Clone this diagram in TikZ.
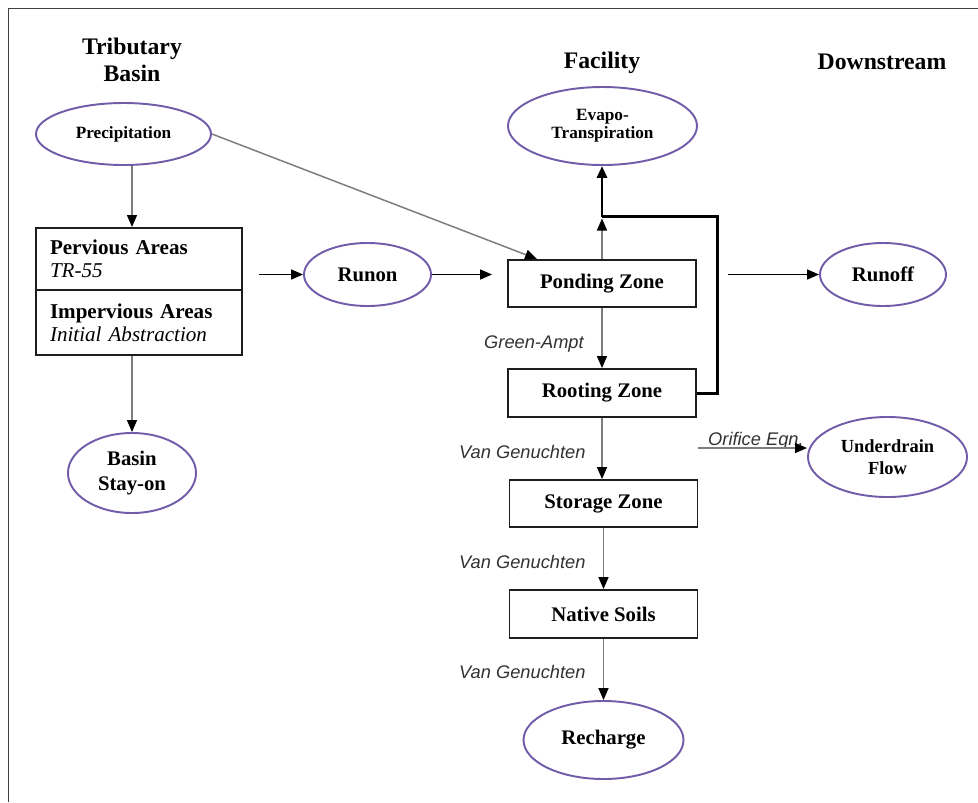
\documentclass[tikz,border=0pt]{standalone}
\usepackage{fontspec}
\setmainfont{Liberation Serif}
\newfontfamily\labfont{Liberation Sans}
\usetikzlibrary{arrows.meta,shapes.geometric,calc}
\definecolor{ellcol}{RGB}{112,92,168}
\definecolor{thingray}{RGB}{125,125,125}
\definecolor{boxcol}{RGB}{30,30,30}
\definecolor{labcol}{RGB}{50,50,50}
\tikzset{
  tip/.style={-{Triangle[width=0.2cm,length=0.24cm,color=black]}},
  flow/.style={tip, draw=thingray, line width=0.85pt},
  blackflow/.style={tip, draw=black, line width=0.9pt},
  thickflow/.style={draw=black, line width=1.7pt},
  ell/.style={ellipse, draw=ellcol, line width=1.1pt, inner sep=0pt, align=center, font=\bfseries\fontsize{11.8}{14}\selectfont},
  smallell/.style={ell, font=\bfseries\fontsize{9.8}{10.4}\selectfont},
  zonebox/.style={rectangle, draw=boxcol, line width=1.1pt, inner sep=0pt, minimum width=3.76cm, font=\bfseries\fontsize{11.8}{14}\selectfont},
  areabox/.style={rectangle, draw=boxcol, line width=1.1pt, inner xsep=0.28cm, inner ysep=0pt, text width=3.56cm, align=left, minimum width=4.12cm, font=\fontsize{12}{13.2}\selectfont},
  title/.style={anchor=base, font=\bfseries\fontsize{13.5}{16}\selectfont},
  lab/.style={anchor=base west, text=labcol, font=\labfont\itshape\fontsize{10.4}{12}\selectfont}
}
\begin{document}
\begin{tikzpicture}
\useasboundingbox (0,0) rectangle (19.56,-16.04);
% frame
\draw[draw=black!75, line width=0.9pt] (0.166,-16.04) -- (0.166,-0.166) -- (19.56,-0.166);
% titles
\node[title] (t1) at (2.64,-1.08) {Tributary};
\node[title] (t2) at (2.64,-1.62) {Basin};
\node[title] (t3) at (12.04,-1.36) {Facility};
\node[title] (t4) at (17.64,-1.38) {Downstream};
% nodes
\node[smallell, minimum width=3.5cm, minimum height=1.24cm] (prec) at (2.47,-2.68) {Precipitation};
\node[areabox, minimum height=1.24cm] (perv) at (2.78,-5.18) {\textbf{Pervious Areas}\\\textit{TR-55}};
\node[areabox, minimum height=1.30cm] (imperv) at (2.78,-6.45) {\textbf{Impervious Areas}\\\textit{Initial Abstraction}};
\node[ell, minimum width=2.56cm, minimum height=1.6cm] (basin) at (2.64,-9.46) {Basin\\Stay-on};
\node[ell, minimum width=2.54cm, minimum height=1.26cm] (runon) at (7.35,-5.49) {Runon};
\node[smallell, minimum width=3.78cm, minimum height=1.56cm] (evapo) at (12.05,-2.52) {Evapo-\\Transpiration};
\node[zonebox, minimum height=0.94cm] (pond) at (12.04,-5.67) {Ponding Zone};
\node[zonebox, minimum height=0.96cm] (root) at (12.04,-7.86) {Rooting Zone};
\node[zonebox, minimum height=0.94cm] (stor) at (12.07,-10.07) {Storage Zone};
\node[zonebox, minimum height=0.96cm] (nat) at (12.07,-12.28) {Native Soils};
\node[ell, minimum width=3.2cm, minimum height=1.56cm] (rech) at (12.07,-14.8) {Recharge};
\node[ell, minimum width=2.52cm, minimum height=1.26cm] (runoff) at (17.66,-5.49) {Runoff};
\node[ell, minimum width=3.18cm, minimum height=1.6cm, font=\bfseries\fontsize{10.5}{12.3}\selectfont] (under) at (17.75,-9.14) {Underdrain\\Flow};
% labels
\node[lab] (ga) at (9.56,-6.96) {Green-Ampt};
\node[lab] (vg1) at (9.06,-9.16) {Van Genuchten};
\node[lab] (vg2) at (9.06,-11.36) {Van Genuchten};
\node[lab] (vg3) at (9.06,-13.56) {Van Genuchten};
\node[lab] (oe) at (14.04,-8.90) {Orifice Eqn.};
% coordinates
\coordinate (J) at (12.04,-4.33);
\coordinate (O) at (13.96,-8.96);
% connectors
\draw[flow] (basin |- prec.south) -- (basin |- perv.north);
\draw[flow] (basin |- imperv.south) -- (basin.north);
\draw[blackflow, shorten <=0.32cm] (runon.west -| perv.east) -- (runon.west);
\draw[blackflow, shorten >=0.3cm] (runon.east) -- (runon.east -| pond.west);
\draw[blackflow, shorten <=0.62cm] (runoff.west -| pond.east) -- (runoff.west);
\draw[flow] (prec.east) -- ($(pond.north west)+(0.6,0)$);
\draw[thickflow] (root.east) -- ++(0.42,0) |- (J);
\draw[thickflow, tip] (J) -- (J |- evapo.south);
\draw[flow, shorten >=0.04cm] (pond.north) -- (J);
\draw[flow] (pond.south) -- (root.north);
\draw[flow] (root.south) -- (root.south |- stor.north);
\draw[flow] (stor.south) -- (nat.north);
\draw[flow] (nat.south) -- (rech.north);
\draw[flow] (O) -- (O -| under.west);
\end{tikzpicture}
\end{document}
